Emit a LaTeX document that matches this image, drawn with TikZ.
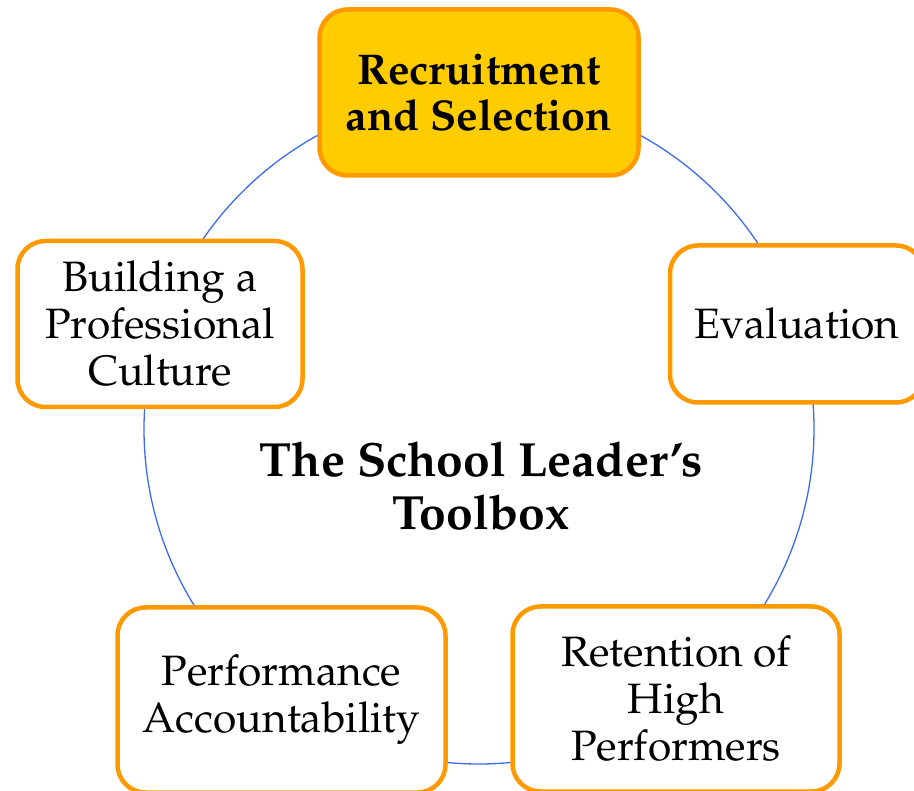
\documentclass[tikz,border=0pt]{standalone}
\usepackage[T1]{fontenc}
\usepackage{mathpazo}
\definecolor{ringblue}{HTML}{3D6BF0}
\definecolor{boxorange}{HTML}{FF9900}
\definecolor{boxgold}{HTML}{FFCC00}
\tikzset{
  tool/.style={draw=boxorange, line width=4.5pt, rounded corners=28pt,
    fill=white, inner sep=0pt, align=center,
    font=\fontsize{42.5}{47}\selectfont},
  keytool/.style={tool, fill=boxgold, font=\fontsize{43}{46}\selectfont\bfseries},
  ring/.style={draw=ringblue, line width=1.3pt}
}
\begin{document}
\begin{tikzpicture}[x=1pt, y=-1pt]
  \useasboundingbox (0,0) rectangle (914,791);
  % ring joining the five tools
  \coordinate (hub) at (479,429);
  \draw[ring] (hub) circle[radius=335pt];
  % the five tools
  \node[keytool, minimum width=319pt, minimum height=166pt] (recruit) at (479,92.5)
    {Recruitment\\and Selection};
  \node[tool, minimum width=254pt, minimum height=157pt] (eval) at (797,324)
    {Evaluation};
  \node[tool, minimum width=285pt, minimum height=166pt] (culture) at (160,324)
    {Building a\\Professional\\Culture};
  \node[tool, minimum width=328pt, minimum height=185pt] (perf) at (281.5,700)
    {Performance\\Accountability};
  \node[tool, minimum width=327pt, minimum height=185pt] (retain) at (676,699)
    {Retention of\\High\\Performers};
  % title in the middle
  \node[align=center, font=\fontsize{48}{53}\selectfont\bfseries] (title) at (481,486)
    {The School Leader's\\Toolbox};
\end{tikzpicture}
\end{document}
